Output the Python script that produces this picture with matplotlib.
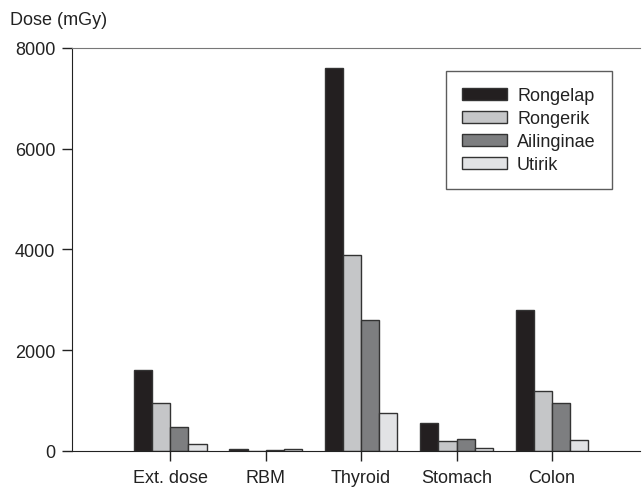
import numpy as np
import matplotlib.pyplot as plt

plt.rcParams['font.family'] = ['Liberation Sans', 'DejaVu Sans']

categories = ['Ext. dose', 'RBM', 'Thyroid', 'Stomach', 'Colon']
series = ['Rongelap', 'Rongerik', 'Ailinginae', 'Utirik']
rongelap = [1600, 40, 7600, 560, 2800]
rongerik = [950, 0, 3900, 200, 1200]
ailinginae = [470, 15, 2600, 240, 950]
utirik = [130, 35, 760, 50, 220]
colors = ['#231f20', '#c5c6c8', '#7d7e80', '#e2e3e5']

fig = plt.figure(figsize=(6.43, 4.89), dpi=100)
ax = fig.add_axes([0.112, 0.0757, 0.883, 0.8241])

x = np.arange(len(categories))
w = 0.19
data = [rongelap, rongerik, ailinginae, utirik]
for i, vals in enumerate(data):
    ax.bar(x + (i - 1.5) * w, vals, w, color=colors[i], edgecolor='#333333',
           linewidth=1.0, label=series[i], zorder=2)

ax.set_xlim(-1.03, 4.92)
ax.set_ylim(0, 8000)
ax.set_xticks(x)
ax.set_xticklabels(categories, fontsize=13)
ax.set_yticks([0, 2000, 4000, 6000, 8000])
ax.tick_params(axis='y', labelsize=13, direction='out', length=7, width=1,
               colors='#222222', pad=5)
ax.tick_params(axis='x', direction='out', length=7, width=1, colors='#222222', pad=6)
for lab in ax.get_xticklabels() + ax.get_yticklabels():
    lab.set_color('#222222')

ax.spines['right'].set_visible(False)
ax.spines['top'].set_color('#777777')
ax.spines['left'].set_color('#222222')
ax.spines['bottom'].set_color('#222222')

fig.text(0.015, 0.958, 'Dose (mGy)', fontsize=13, ha='left', va='center', color='#222222')

leg = ax.legend(loc='upper right', bbox_to_anchor=(0.951, 0.943), fontsize=13,
                frameon=True, fancybox=False, edgecolor='#333333',
                handlelength=2.5, handleheight=0.62, labelspacing=0.33,
                borderpad=0.9, handletextpad=0.55, borderaxespad=0)
leg.get_frame().set_linewidth(1.0)
for t in leg.get_texts():
    t.set_color('#222222')

fig.savefig('out.png', dpi=100)
